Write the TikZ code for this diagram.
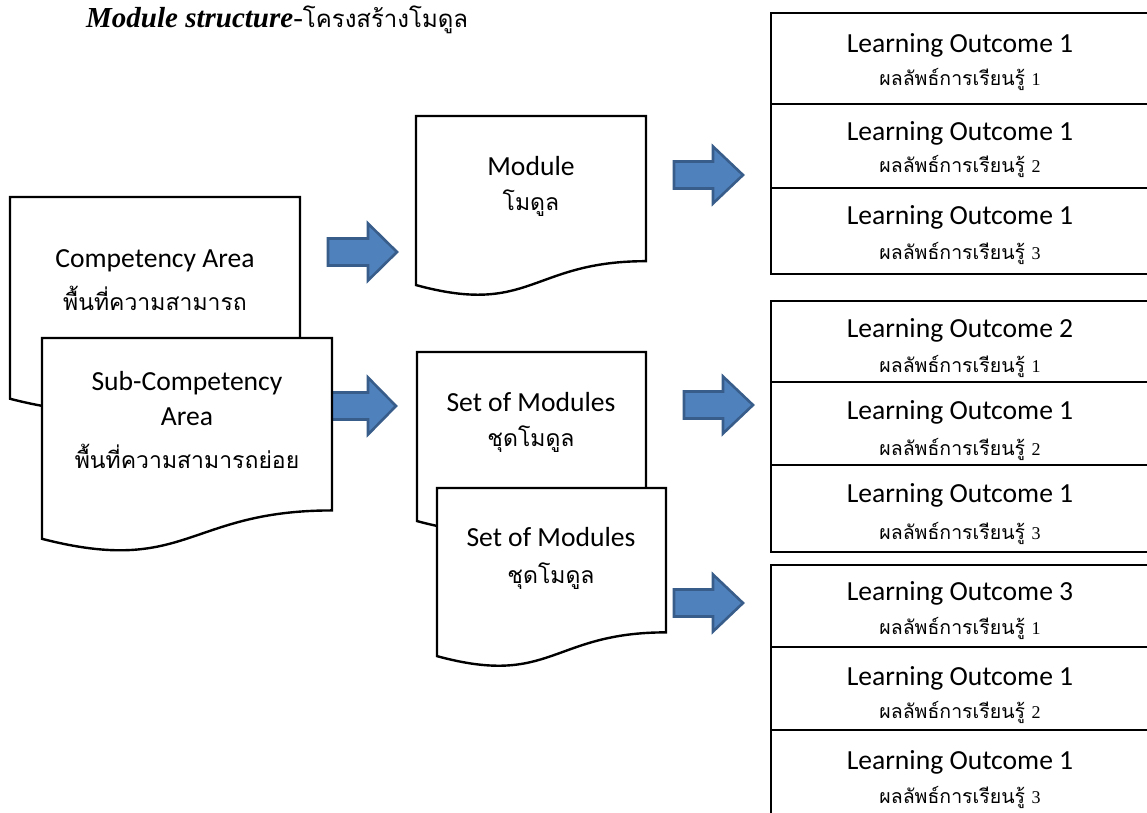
\documentclass[tikz,border=0pt]{standalone}
\usepackage{fontspec}
\setmainfont{Carlito}
\newfontfamily\thai[Script=Thai]{Loma}
\newfontfamily\tnr{Liberation Serif}
\definecolor{arrfill}{HTML}{4F81BD}
\definecolor{arrdraw}{HTML}{385D8A}
\newcommand\mydoc[5]{% name, x0, y0, w, h
  \path[docline] (#2,#3) -- ({#2+#4},#3) -- ({#2+#4},{#3+0.802*#5})
    .. controls ({#2+#4/2},{#3+0.802*#5}) and ({#2+#4/2},{#3+1.1075*#5}) .. (#2,{#3+0.934*#5}) -- cycle;
  \coordinate (#1) at ({#2+#4/2},{#3+#5/2});
}
\newcommand\myarrow[5]{% name, left x, head base x, tip x, center y
  \path[blockarr] (#2,{#5-13.5}) -- (#3,{#5-13.5}) -- (#3,{#5-28.5}) -- (#4,#5)
    -- (#3,{#5+28.5}) -- (#3,{#5+13.5}) -- (#2,{#5+13.5}) -- cycle;
  \coordinate (#1) at (#4,#5);
}
\tikzset{
  docline/.style={draw=black, line width=2.4pt, fill=white, line join=miter},
  blockarr/.style={draw=arrdraw, line width=2.6pt, fill=arrfill, line join=miter},
  lobox/.style={draw=black, line width=2.4pt, fill=white},
  entxt/.style={font=\fontsize{27.6}{31}\selectfont, align=center, inner sep=0pt},
  thtxt/.style={font=\thai\fontsize{23}{27}\selectfont, align=center, inner sep=0pt},
  thsm/.style={font=\thai\fontsize{19.5}{22}\selectfont, align=center, inner sep=0pt},
}
\newcommand\lothai[1]{ผลลัพธ์การเรียนรู้ {\tnr\fontsize{18}{20}\selectfont #1}}
\begin{document}
\begin{tikzpicture}[x=1pt,y=-1pt]
\useasboundingbox (0,0) rectangle (1147,812);
\clip (0,0) rectangle (1147,812);
% title
\node[anchor=base west, inner sep=0pt] (title) at (86,27)
  {{\tnr\bfseries\itshape\fontsize{29}{33}\selectfont Module structure}{\tnr\fontsize{29}{33}\selectfont -}{\thai\fontsize{24}{28}\selectfont โครงสร้างโมดูล}};
% arrows (drawn first)
\myarrow{a1}{328}{368}{397}{252}
\myarrow{a2}{328}{368}{396}{406}
\myarrow{a3}{674}{713}{743}{175}
\myarrow{a4}{684}{723}{753}{405}
\myarrow{a5}{674}{713}{743}{603}
% document boxes
\mydoc{comp}{10}{197}{290}{216}
\mydoc{sub}{42}{338}{290}{215}
\mydoc{mod}{416}{116}{230}{181}
\mydoc{set1}{417}{352}{229}{181}
\mydoc{set2}{437}{488}{229}{180}
% texts in document boxes
\node[entxt] (compE) at (155,261) {Competency Area};
\node[thtxt] (compT) at (155,298) {พื้นที่ความสามารถ};
\node[entxt] (subE) at (187,383) {Sub-Competency};
\node[entxt] (subE2) at (187,417) {Area};
\node[thtxt] (subT) at (187,456) {พื้นที่ความสามารถย่อย};
\node[entxt] (modE) at (531,166) {Module};
\node[thtxt] (modT) at (531,203) {โมดูล};
\node[entxt] (set1E) at (531,402) {Set of Modules};
\node[thtxt] (set1T) at (531,439) {ชุดโมดูล};
\node[entxt] (set2E) at (551,537) {Set of Modules};
\node[thtxt] (set2T) at (551,576) {ชุดโมดูล};
% learning outcome boxes
\draw[lobox] (771,13) rectangle (1160,104);
\draw[lobox] (771,104) rectangle (1160,188);
\draw[lobox] (771,188) rectangle (1160,274);
\draw[lobox] (771,301) rectangle (1160,382);
\draw[lobox] (771,382) rectangle (1160,465);
\draw[lobox] (771,465) rectangle (1160,552);
\draw[lobox] (771,565) rectangle (1160,647);
\draw[lobox] (771,647) rectangle (1160,730);
\draw[lobox] (771,730) rectangle (1160,830);
% LO texts
\node[entxt] (l1aE) at (960,45) {Learning Outcome 1};
\node[thsm] (l1aT) at (960,79) {\lothai{1}};
\node[entxt] (l1bE) at (960,133) {Learning Outcome 1};
\node[thsm] (l1bT) at (960,166) {\lothai{2}};
\node[entxt] (l1cE) at (960,217) {Learning Outcome 1};
\node[thsm] (l1cT) at (960,253) {\lothai{3}};
\node[entxt] (l2aE) at (960,330) {Learning Outcome 2};
\node[thsm] (l2aT) at (960,366) {\lothai{1}};
\node[entxt] (l2bE) at (960,412) {Learning Outcome 1};
\node[thsm] (l2bT) at (960,449) {\lothai{2}};
\node[entxt] (l2cE) at (960,495) {Learning Outcome 1};
\node[thsm] (l2cT) at (960,533) {\lothai{3}};
\node[entxt] (l3aE) at (960,593) {Learning Outcome 3};
\node[thsm] (l3aT) at (960,628) {\lothai{1}};
\node[entxt] (l3bE) at (960,678) {Learning Outcome 1};
\node[thsm] (l3bT) at (960,712) {\lothai{2}};
\node[entxt] (l3cE) at (960,762) {Learning Outcome 1};
\node[thsm] (l3cT) at (960,797) {\lothai{3}};
\end{tikzpicture}
\end{document}
